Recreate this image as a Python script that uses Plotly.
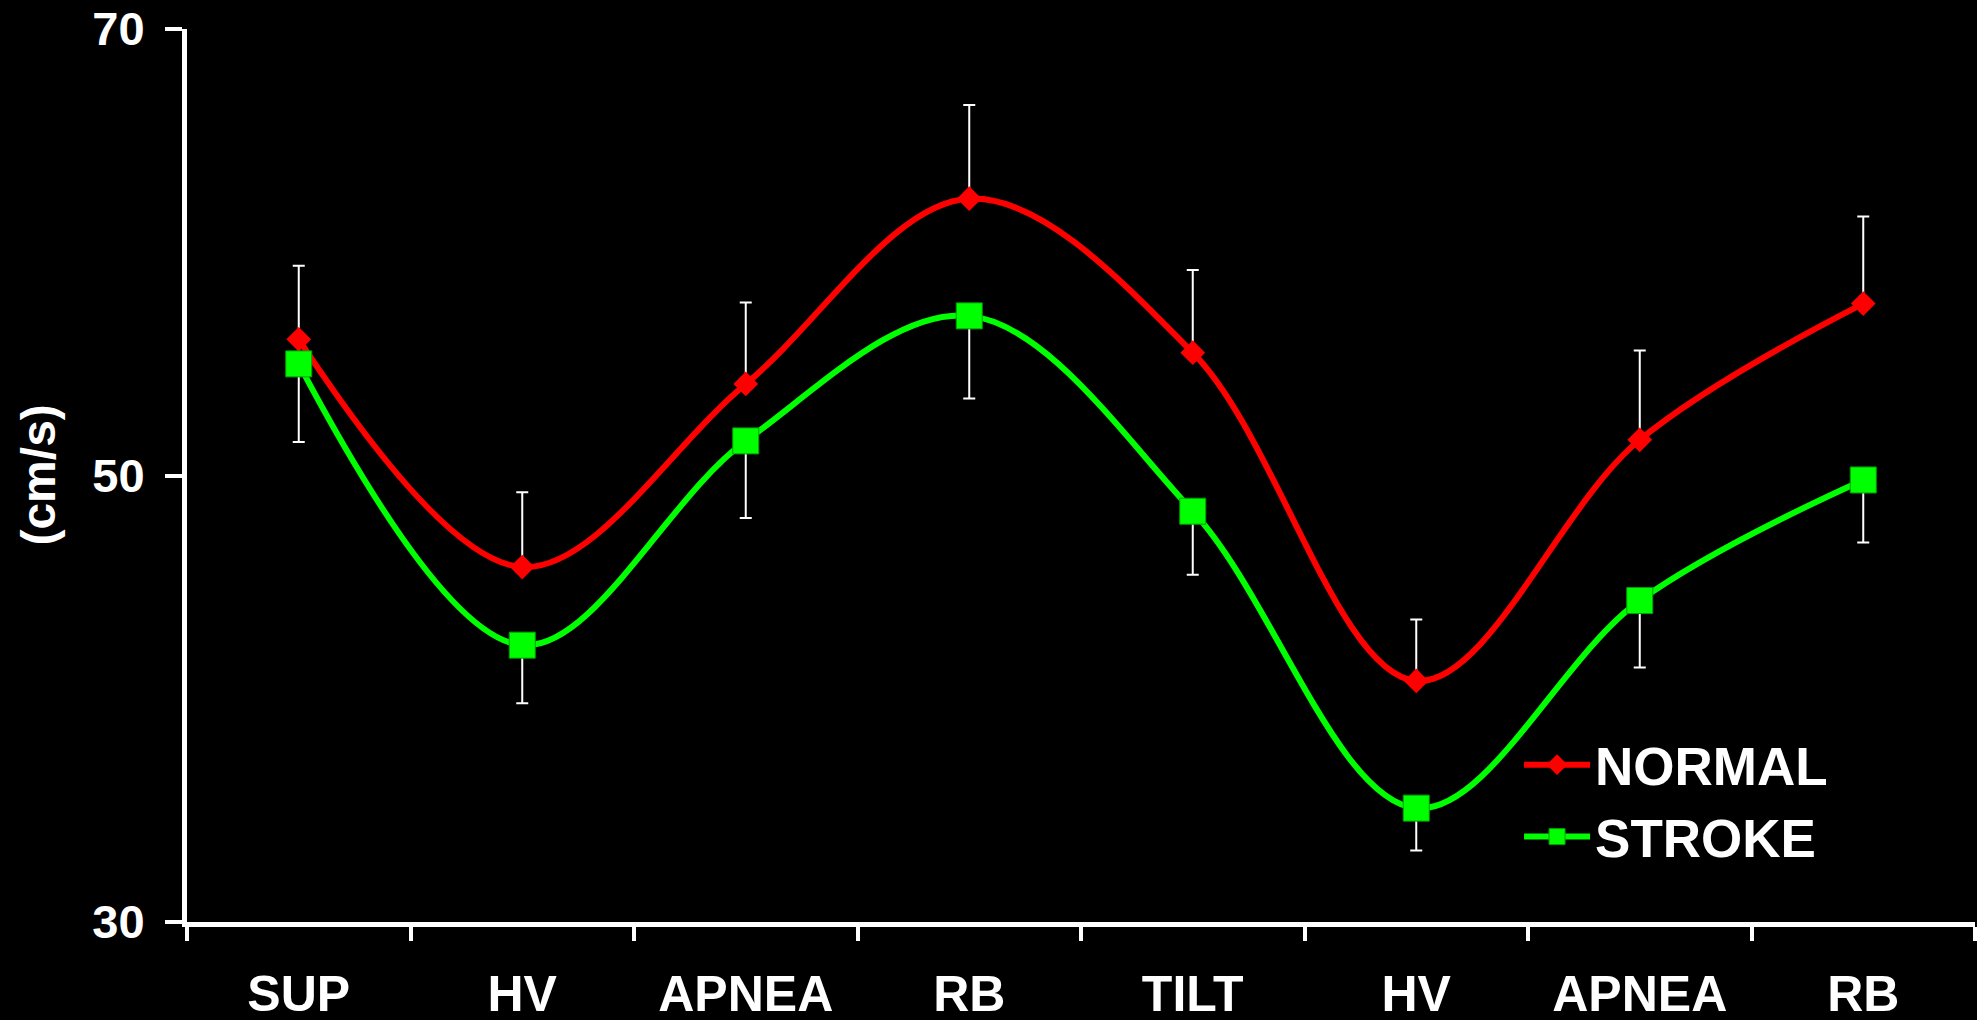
import plotly.graph_objects as go

# ---- data ----
conditions = ["SUP", "HV", "APNEA", "RB", "TILT", "HV", "APNEA", "RB"]
positions = list(range(len(conditions)))

normal_mean = [56.1, 45.9, 54.1, 62.4, 55.5, 40.8, 51.6, 57.7]
normal_err_up = [3.3, 3.35, 3.65, 4.2, 3.7, 2.75, 4.0, 3.9]

stroke_mean = [55.0, 42.4, 51.55, 57.15, 48.4, 35.1, 44.4, 49.8]
stroke_err_down = [3.5, 2.6, 3.45, 3.7, 2.85, 1.9, 3.0, 2.8]

y_ticks = [30, 50, 70]
y_title = "(cm/s)"
zeros = [0] * len(conditions)

FONT = "Liberation Sans, Arial, sans-serif"

fig = go.Figure()

fig.add_trace(go.Scatter(
    x=positions, y=normal_mean, name="NORMAL",
    mode="lines+markers",
    line=dict(color="#FF0000", width=6, shape="spline", smoothing=1.0),
    marker=dict(symbol="diamond", size=19, color="#FF0000", line=dict(width=0)),
    error_y=dict(type="data", symmetric=False, array=normal_err_up, arrayminus=zeros,
                 color="white", thickness=2, width=6),
))

fig.add_trace(go.Scatter(
    x=positions, y=stroke_mean, name="STROKE",
    mode="lines+markers",
    line=dict(color="#00FF00", width=6, shape="spline", smoothing=1.0),
    marker=dict(symbol="square", size=26, color="#00FF00", line=dict(width=1, color="#00A000")),
    error_y=dict(type="data", symmetric=False, array=zeros, arrayminus=stroke_err_down,
                 color="white", thickness=2, width=6),
))

fig.update_layout(
    width=1977, height=1020,
    paper_bgcolor="black", plot_bgcolor="black",
    margin=dict(l=187, r=2, t=29, b=98, autoexpand=False),
    font=dict(family=FONT, color="white", size=46, weight="bold"),
    showlegend=True,
    legend=dict(
        x=0.745, y=0.222, xanchor="left", yanchor="top",
        font=dict(family=FONT, size=53, color="white", weight="bold"),
        bgcolor="rgba(0,0,0,0)", itemwidth=66,
    ),
    annotations=[dict(
        text=y_title, textangle=-90, xref="paper", yref="paper",
        x=-0.0833, y=0.5, xanchor="center", yanchor="middle", showarrow=False,
        font=dict(family=FONT, size=48, color="white", weight="bold"),
    )],
)

fig.update_xaxes(
    range=[-0.5, len(conditions) - 0.5],
    tickmode="array", tickvals=positions, ticktext=conditions,
    ticks="", ticklabelstandoff=24, automargin=False,
    tickfont=dict(family=FONT, size=50, color="white", weight="bold"),
    showline=True, linecolor="white", linewidth=5,
    showgrid=False, zeroline=False,
    minor=dict(tickmode="array",
               tickvals=[p - 0.5 for p in positions] + [len(conditions) - 0.5],
               ticks="outside", ticklen=14, tickwidth=4, tickcolor="white", showgrid=False),
)

fig.update_yaxes(
    range=[30, 70],
    tickmode="array", tickvals=y_ticks, ticktext=[str(v) for v in y_ticks],
    ticks="outside", ticklen=17, tickwidth=4, tickcolor="white",
    ticklabelstandoff=11, automargin=False,
    tickfont=dict(family=FONT, size=47, color="white", weight="bold"),
    showline=True, linecolor="white", linewidth=5,
    showgrid=False, zeroline=False,
)

fig.write_html(
    "out.html",
    config={"displayModeBar": False},
    post_script="document.body.style.margin='0px';document.body.style.background='black';",
)
